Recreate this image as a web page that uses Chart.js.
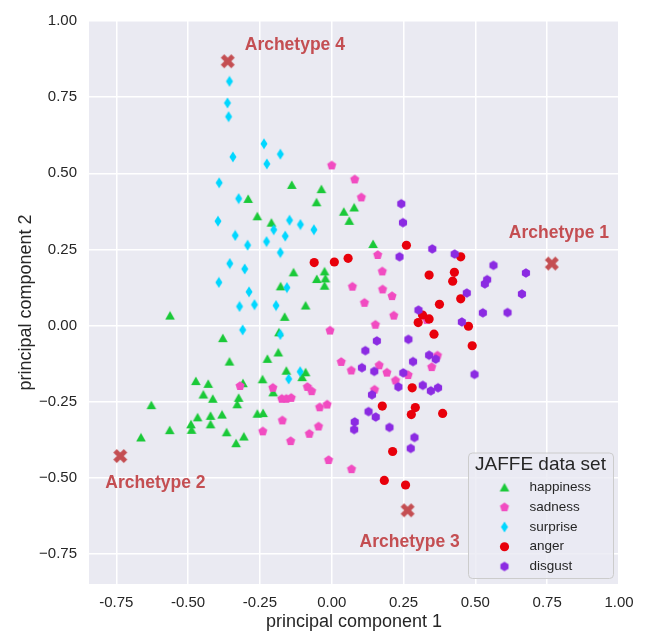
<!DOCTYPE html>
<html lang="en">
<head>
  <meta charset="UTF-8" />
  <title>JAFFE data set - archetypes</title>
  <style>
    html, body { margin: 0; padding: 0; background: #fff; }
    #pcaChart { display: block; }
  </style>
</head>
<body>

<canvas id="pcaChart" width="646" height="632"></canvas>

<script src="https://cdn.jsdelivr.net/npm/chart.js@4"></script>
<script>
  // points: [pc1, pc2]
  const happiness = [
    [-0.139, 0.462], [-0.036, 0.448], [-0.053, 0.405], [-0.291, 0.416], [-0.259, 0.359],
    [-0.210, 0.338], [-0.133, 0.175], [-0.178, 0.129], [-0.091, 0.066], [-0.563, 0.033],
    [-0.164, 0.029], [-0.025, 0.178], [-0.052, 0.153], [-0.022, 0.155], [-0.025, 0.131],
    [0.042, 0.374], [0.078, 0.388], [0.061, 0.344], [0.144, 0.268],
    [-0.379, -0.041], [-0.356, -0.118], [-0.224, -0.109], [-0.473, -0.182], [-0.430, -0.191],
    [-0.309, -0.189], [-0.241, -0.176], [-0.447, -0.226], [-0.414, -0.240], [-0.324, -0.237],
    [-0.329, -0.258], [-0.628, -0.261], [-0.259, -0.289], [-0.239, -0.287], [-0.467, -0.301],
    [-0.382, -0.292], [-0.422, -0.296], [-0.490, -0.324], [-0.488, -0.342], [-0.422, -0.324],
    [-0.366, -0.350], [-0.306, -0.364], [-0.333, -0.386], [-0.564, -0.343], [-0.664, -0.367],
    [-0.184, -0.022], [-0.186, -0.088], [-0.158, -0.148], [-0.091, -0.153], [-0.103, -0.169],
    [-0.204, -0.219]
  ];
  const sadness = [
    [0.000, 0.526], [0.080, 0.480], [0.103, 0.421], [0.160, 0.232], [0.176, 0.178],
    [0.072, 0.128], [0.177, 0.119], [0.210, 0.097], [0.114, 0.075], [0.216, 0.033],
    [0.152, 0.003], [-0.006, -0.016],
    [0.033, -0.119], [0.068, -0.147], [0.165, -0.130], [0.192, -0.154], [0.222, -0.180],
    [0.266, -0.162], [0.348, -0.136], [0.149, -0.210], [-0.205, -0.204], [-0.085, -0.201],
    [-0.070, -0.215], [-0.174, -0.240], [-0.158, -0.240], [-0.141, -0.237], [-0.042, -0.268],
    [-0.016, -0.259], [-0.172, -0.311], [-0.240, -0.347], [-0.046, -0.331], [-0.078, -0.355],
    [-0.143, -0.379], [-0.011, -0.441], [0.069, -0.471],
    [0.368, -0.098], [0.331, 0.019], [-0.319, -0.198]
  ];
  const surprise = [
    [-0.356, 0.802], [-0.363, 0.731], [-0.359, 0.686], [-0.344, 0.554], [-0.236, 0.597],
    [-0.179, 0.563], [-0.226, 0.531], [-0.392, 0.469], [-0.324, 0.417], [-0.396, 0.343],
    [-0.336, 0.296], [-0.293, 0.264], [-0.227, 0.276], [-0.202, 0.315], [-0.147, 0.346],
    [-0.109, 0.332], [-0.162, 0.294], [-0.179, 0.240], [-0.062, 0.315], [-0.355, 0.204],
    [-0.303, 0.186], [-0.393, 0.142], [-0.288, 0.111], [-0.156, 0.125], [-0.321, 0.063],
    [-0.269, 0.069], [-0.194, 0.066], [-0.310, -0.014], [-0.179, -0.029], [-0.110, -0.151],
    [-0.150, -0.175]
  ];
  const anger = [
    [0.260, 0.264], [-0.061, 0.207], [0.009, 0.209], [0.057, 0.221], [0.449, 0.226],
    [0.339, 0.166], [0.427, 0.175], [0.421, 0.146], [0.449, 0.088], [0.375, 0.070],
    [0.316, 0.035], [0.339, 0.022], [0.301, 0.010], [0.476, -0.002], [0.356, -0.028],
    [0.489, -0.066], [0.280, -0.204], [0.291, -0.269], [0.176, -0.264], [0.277, -0.292],
    [0.212, -0.413], [0.183, -0.508], [0.257, -0.523], [0.386, -0.288]
  ];
  const disgust = [
    [0.242, 0.400], [0.248, 0.338], [0.236, 0.226], [0.350, 0.252], [0.428, 0.235],
    [0.563, 0.198], [0.676, 0.173], [0.541, 0.151], [0.533, 0.137], [0.470, 0.107],
    [0.662, 0.104], [0.526, 0.042], [0.612, 0.043], [0.302, 0.051], [0.453, 0.012],
    [0.267, -0.045], [0.339, -0.097], [0.362, -0.110], [0.283, -0.118], [0.249, -0.155],
    [0.497, -0.160], [0.317, -0.196], [0.345, -0.214], [0.370, -0.204],
    [0.157, -0.050], [0.117, -0.082], [0.105, -0.138], [0.148, -0.150], [0.232, -0.201],
    [0.140, -0.227], [0.128, -0.282], [0.153, -0.300], [0.080, -0.316], [0.078, -0.341],
    [0.201, -0.334], [0.288, -0.367], [0.275, -0.403]
  ];
  const archetypes = [[0.766, 0.204], [-0.736, -0.428], [0.264, -0.606], [-0.362, 0.868]];
  const archetypeNames = ['Archetype 1', 'Archetype 2', 'Archetype 3', 'Archetype 4'];

  const xTicks = [-0.75, -0.5, -0.25, 0, 0.25, 0.5, 0.75, 1.0];
  const yTicks = [-0.75, -0.5, -0.25, 0, 0.25, 0.5, 0.75, 1.0];

  const FONT = "'Liberation Sans', Arial, sans-serif";
  const TEXT = '#262626';
  const ARCH_RED = '#c44e52';

  // marker shapes like matplotlib ^ p d o h X
  function makeMarker(size, color, path) {
    const c = document.createElement('canvas');
    c.width = size; c.height = size;
    const g = c.getContext('2d');
    g.translate(size / 2, size / 2);
    g.fillStyle = color;
    g.beginPath();
    path(g);
    g.closePath();
    g.fill();
    return c;
  }
  function polygon(g, n, r, rot) {
    for (let i = 0; i < n; i++) {
      const a = rot + i * 2 * Math.PI / n;
      const px = r * Math.sin(a), py = -r * Math.cos(a);
      i === 0 ? g.moveTo(px, py) : g.lineTo(px, py);
    }
  }
  const triMarker = makeMarker(12, '#1ac938', g => {
    g.moveTo(0, -4.4); g.lineTo(4.8, 4.0); g.lineTo(-4.8, 4.0);
  });
  const pentMarker = makeMarker(12, '#f14cc1', g => polygon(g, 5, 4.8, 0));
  const diamondMarker = makeMarker(12, '#00d7ff', g => {
    g.moveTo(0, -5.4); g.lineTo(3.5, 0); g.lineTo(0, 5.4); g.lineTo(-3.5, 0);
  });
  const hexMarker = makeMarker(12, '#8b2be2', g => polygon(g, 6, 4.7, 0));
  const xMarker = makeMarker(16, ARCH_RED, g => {
    const pts = [[-1, -2], [0, -1], [1, -2], [2, -1], [1, 0], [2, 1], [1, 2], [0, 1], [-1, 2], [-2, 1], [-1, 0], [-2, -1]];
    pts.forEach(([a, b], i) => i === 0 ? g.moveTo(a * 3.5, b * 3.5) : g.lineTo(a * 3.5, b * 3.5));
  });

  const toXY = arr => arr.map(([x, y]) => ({ x, y }));

  const series = [
    { label: 'happiness', data: happiness, style: triMarker, color: '#1ac938', order: 5 },
    { label: 'sadness', data: sadness, style: pentMarker, color: '#f14cc1', order: 4 },
    { label: 'surprise', data: surprise, style: diamondMarker, color: '#00d7ff', order: 3 },
    { label: 'anger', data: anger, style: 'circle', color: '#e8000b', order: 2 },
    { label: 'disgust', data: disgust, style: hexMarker, color: '#8b2be2', order: 1 }
  ];

  const datasets = series.map(s => ({
    label: s.label,
    data: toXY(s.data),
    pointStyle: s.style,
    pointRadius: s.style === 'circle' ? 4.6 : 5,
    backgroundColor: s.color,
    borderWidth: 0,
    order: s.order
  }));
  datasets.push({
    label: 'archetypes',
    data: toXY(archetypes),
    pointStyle: xMarker,
    pointRadius: 7,
    backgroundColor: ARCH_RED,
    borderWidth: 0,
    order: 0
  });

  const plotBackground = {
    id: 'plotBackground',
    beforeDraw(chart) {
      const { ctx, chartArea: a } = chart;
      ctx.save();
      ctx.fillStyle = '#eaeaf2';
      ctx.fillRect(a.left, a.top, a.right - a.left, a.bottom - a.top);
      ctx.restore();
    }
  };

  // text next to each archetype marker (pixel offsets from the marker)
  const labelOffsets = [[-43, -26], [-15, 32], [-48, 37], [17, -11]];
  const archetypeLabels = {
    id: 'archetypeLabels',
    afterDatasetsDraw(chart) {
      const { ctx, scales } = chart;
      ctx.save();
      ctx.font = "bold 17.5px " + FONT;
      ctx.fillStyle = ARCH_RED;
      ctx.textAlign = 'left';
      ctx.textBaseline = 'alphabetic';
      archetypes.forEach(([x, y], i) => {
        const px = scales.x.getPixelForValue(x) + labelOffsets[i][0];
        const py = scales.y.getPixelForValue(y) + labelOffsets[i][1];
        ctx.fillText(archetypeNames[i], px, py);
      });
      ctx.restore();
    }
  };

  const boxLegend = {
    id: 'boxLegend',
    afterDraw(chart) {
      const { ctx, chartArea: a } = chart;
      const w = 145, h = 125.5;
      const left = a.right - 6 - w, top = a.bottom - 6 - h;
      ctx.save();
      ctx.beginPath();
      ctx.roundRect(left + 0.5, top + 0.5, w, h, 4);
      ctx.fillStyle = 'rgba(234,234,242,0.8)';
      ctx.fill();
      ctx.strokeStyle = '#cccccc';
      ctx.lineWidth = 1;
      ctx.stroke();

      ctx.fillStyle = TEXT;
      ctx.textBaseline = 'middle';
      ctx.textAlign = 'center';
      ctx.font = "19px " + FONT;
      ctx.fillText('JAFFE data set', left + w / 2, top + 12.5);

      ctx.textAlign = 'left';
      ctx.font = "13.5px " + FONT;
      series.forEach((s, i) => {
        const cy = top + 35 + i * 19.75;
        const mx = left + 36.5;
        if (s.style === 'circle') {
          ctx.beginPath();
          ctx.arc(mx, cy, 4.6, 0, Math.PI * 2);
          ctx.fillStyle = s.color;
          ctx.fill();
        } else {
          ctx.drawImage(s.style, mx - s.style.width / 2, cy - s.style.height / 2);
        }
        ctx.fillStyle = TEXT;
        ctx.fillText(s.label, left + 61.5, cy);
      });
      ctx.restore();
    }
  };

  const tickFont = { family: FONT, size: 15 };
  const titleFont = { family: FONT, size: 18, lineHeight: 1 };

  new Chart(document.getElementById('pcaChart').getContext('2d'), {
    type: 'scatter',
    data: { datasets },
    options: {
      responsive: false,
      animation: false,
      events: [],
      layout: { padding: { top: 20, right: 27, left: 0, bottom: 0 } },
      scales: {
        x: {
          type: 'linear',
          min: -0.845,
          max: 1.0,
          afterBuildTicks: s => { s.ticks = xTicks.map(v => ({ value: v })); },
          afterFit: s => { s.height = 48; },
          ticks: {
            callback: v => v.toFixed(2),
            font: tickFont,
            color: TEXT,
            padding: 10,
            autoSkip: false,
            maxRotation: 0
          },
          grid: { color: '#ffffff', lineWidth: 1.5, drawTicks: false },
          border: { display: false },
          title: {
            display: true,
            text: 'principal component 1',
            font: titleFont,
            color: TEXT,
            padding: { top: 0, bottom: 1 }
          }
        },
        y: {
          type: 'linear',
          min: -0.848,
          max: 1.0,
          afterBuildTicks: s => { s.ticks = yTicks.map(v => ({ value: v })); },
          afterFit: s => { s.width = 89; },
          ticks: {
            callback: v => (v < 0 ? '\u2212' : '') + Math.abs(v).toFixed(2),
            font: tickFont,
            color: TEXT,
            padding: 12,
            autoSkip: false
          },
          grid: { color: '#ffffff', lineWidth: 1.5, drawTicks: false },
          border: { display: false },
          title: {
            display: true,
            text: 'principal component 2',
            font: titleFont,
            color: TEXT,
            padding: { top: 17, bottom: 0 }
          }
        }
      },
      plugins: {
        legend: { display: false },
        tooltip: { enabled: false }
      }
    },
    plugins: [plotBackground, archetypeLabels, boxLegend]
  });
</script>

</body>
</html>
